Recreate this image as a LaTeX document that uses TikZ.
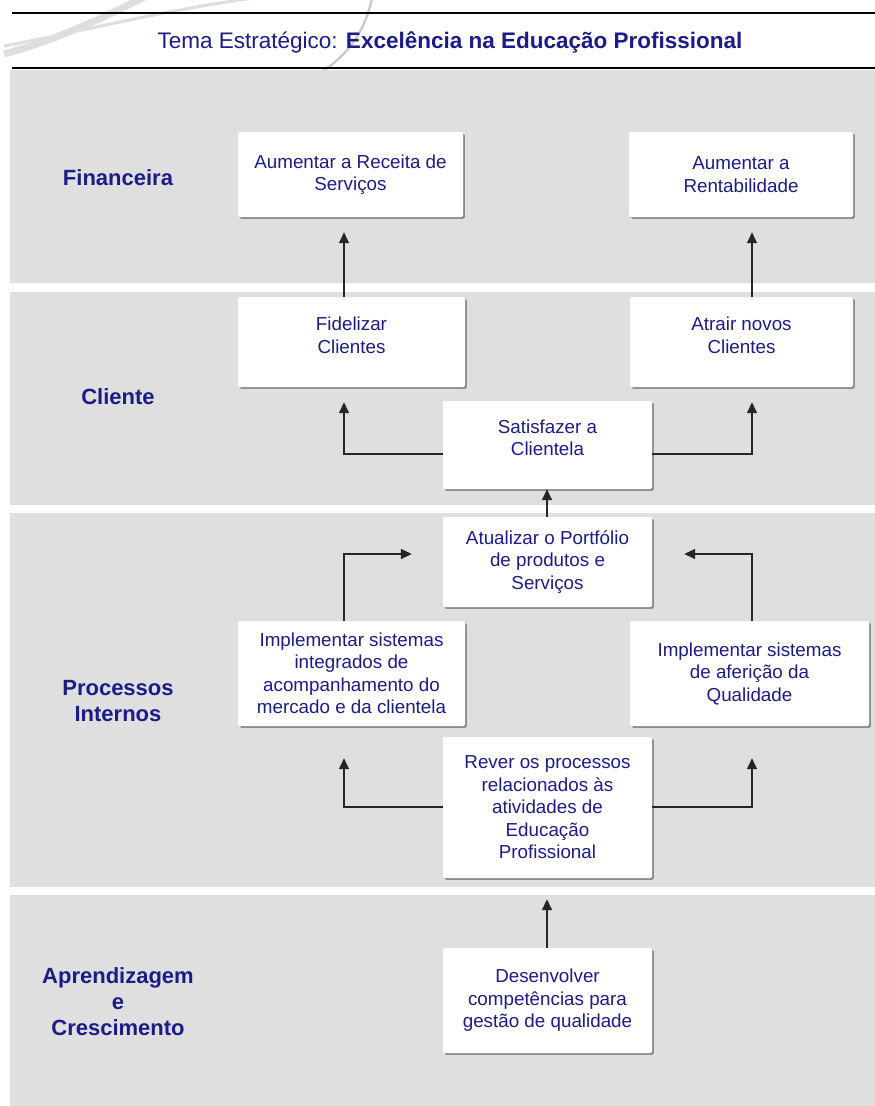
\documentclass[tikz,border=0pt]{standalone}
\usepackage{fontspec}
\setmainfont{Liberation Sans}
\usetikzlibrary{arrows.meta,shadows}
\definecolor{navy}{RGB}{28,28,135}
\definecolor{band}{RGB}{223,223,223}
\definecolor{swoosh}{RGB}{222,222,222}
\tikzset{
  bandbg/.style={fill=band,draw=none},
  goalbox/.style={draw=none,fill=white,rounded corners=1.5pt,align=center,
    text=navy,font=\fontsize{18.8}{22.5}\selectfont,inner sep=0pt,
    drop shadow={shadow xshift=1.8pt,shadow yshift=-1.8pt,fill=black!45,opacity=1}},
  persp/.style={align=center,text=navy,font=\fontsize{22}{26}\selectfont\bfseries},
  arr/.style={draw=black!85,line width=1.5pt,-{Triangle[length=11pt,width=10pt]}},
  rule/.style={draw=black,line width=1.8pt}
}
\begin{document}
\begin{tikzpicture}[x=1pt,y=-1pt]
\useasboundingbox (0,0) rectangle (875,1106);
\fill[white] (0,0) rectangle (875,1106);

% decorative swoosh behind the header
\draw[swoosh,line width=7pt] (4,54) .. controls (50,42) and (100,20) .. (150,-6);
\draw[swoosh,line width=3pt] (4,46) .. controls (90,30) and (170,8) .. (270,-4);
\draw[swoosh!90!black,line width=2.2pt] (372,-2) .. controls (366,28) and (350,55) .. (318,74);

% header rules and title
\draw[rule] (12,13) -- (875,13);
\draw[rule,line width=1.5pt] (12,68) -- (875,68);
\node[anchor=base,text=navy,font=\fontsize{22.5}{27}\selectfont] (title) at (450,48)
  {Tema Estratégico: \textbf{Excelência na Educação Profissional}};

% perspective bands
\fill[bandbg] (10,70) rectangle (875,283);
\fill[bandbg] (10,292) rectangle (875,505);
\fill[bandbg] (10,513) rectangle (875,887);
\fill[bandbg] (10,895) rectangle (875,1106);

% perspective names
\node[persp] (pfin) at (118,178) {Financeira};
\node[persp] (pcli) at (118,397) {Cliente};
\node[persp] (ppro) at (118,701) {Processos\\Internos};
\node[persp] (papr) at (118,1002) {Aprendizagem\\e\\Crescimento};

% objectives
\node[goalbox,minimum width=225pt,minimum height=85pt] (rec) at (350.5,174.5) {Aumentar a Receita de\\Serviços};
\node[goalbox,minimum width=224pt,minimum height=85pt] (rent) at (741,174.5) {Aumentar a\\Rentabilidade};
\node[goalbox,minimum width=227pt,minimum height=90pt,text depth=14pt] (fid) at (351.5,342) {Fidelizar\\Clientes};
\node[goalbox,minimum width=223pt,minimum height=90pt,text depth=14pt] (atr) at (741.5,342) {Atrair novos\\Clientes};
\node[goalbox,minimum width=209pt,minimum height=88pt,text depth=15pt] (sat) at (547.5,445) {Satisfazer a\\Clientela};
\node[goalbox,minimum width=209pt,minimum height=90pt] (atu) at (547.5,562) {Atualizar o Portfólio\\de produtos e\\Serviços};
\node[goalbox,minimum width=227pt,minimum height=105pt] (impL) at (351.5,673.5) {Implementar sistemas\\integrados de\\acompanhamento do\\mercado e da clientela};
\node[goalbox,minimum width=239pt,minimum height=105pt] (impR) at (749.5,673.5) {Implementar sistemas\\de aferição da\\Qualidade};
\node[goalbox,minimum width=209pt,minimum height=141pt] (rev) at (547.5,807.5) {Rever os processos\\relacionados às\\atividades de\\Educação\\Profissional};
\node[goalbox,minimum width=209pt,minimum height=105pt] (des) at (547.5,1000.5) {Desenvolver\\competências para\\gestão de qualidade};

% connector columns and rows
\coordinate (cL) at (344,0);
\coordinate (cR) at (752,0);
\coordinate (cM) at (547,0);
\coordinate (rS) at (0,454);
\coordinate (rA) at (0,554);
\coordinate (rR) at (0,807);

% cause and effect links
\draw[arr,shorten >=15pt] (fid.north -| cL) -- (rec.south -| cL);
\draw[arr,shorten >=15pt] (atr.north -| cR) -- (rent.south -| cR);
\draw[arr,shorten >=15pt] (sat.west |- rS) -| (fid.south -| cL);
\draw[arr,shorten >=15pt] (sat.east |- rS) -| (atr.south -| cR);
\draw[arr] (atu.north -| cM) -- (sat.south -| cM);
\draw[arr,shorten >=31pt] (impL.north -| cL) |- (atu.west |- rA);
\draw[arr,shorten >=32pt] (impR.north -| cR) |- (atu.east |- rA);
\draw[arr,shorten >=32pt] (rev.west |- rR) -| (impL.south -| cL);
\draw[arr,shorten >=32pt] (rev.east |- rR) -| (impR.south -| cR);
\draw[arr,shorten >=21pt] (des.north -| cM) -- (rev.south -| cM);
\end{tikzpicture}
\end{document}
